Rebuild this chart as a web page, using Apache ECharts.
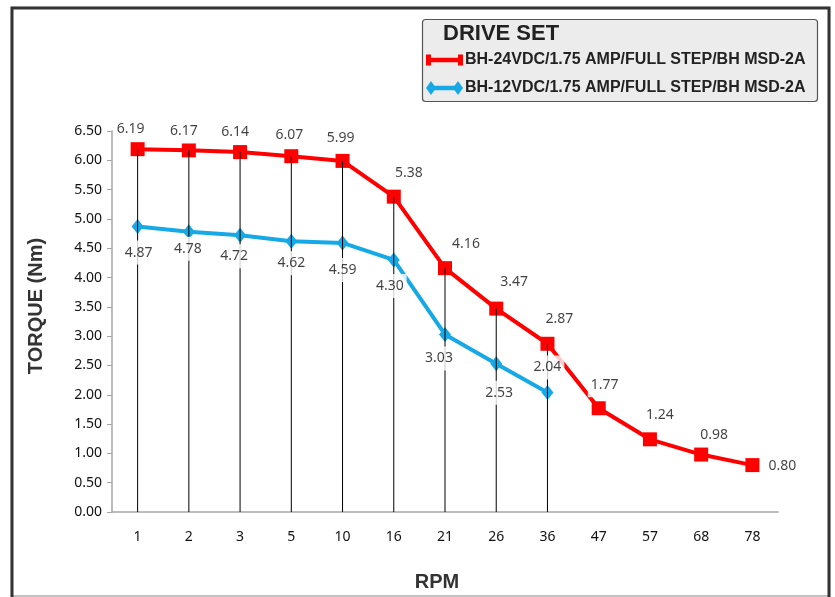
<!DOCTYPE html>
<html>
<head>
<meta charset="utf-8">
<script src="https://cdn.jsdelivr.net/npm/echarts@6/dist/echarts.min.js"></script>
<style>html,body{margin:0;padding:0;background:#fff;}#c{width:835px;height:597px;}</style>
</head>
<body>
<div id="c"></div>
<script>
// ---- data ----
var rpm = ['1','2','3','5','10','16','21','26','36','47','57','68','78'];
var torque24 = [6.19,6.17,6.14,6.07,5.99,5.38,4.16,3.47,2.87,1.77,1.24,0.98,0.80];
var torque12 = [4.87,4.78,4.72,4.62,4.59,4.30,3.03,2.53,2.04];
var seriesNames = ['BH-24VDC/1.75 AMP/FULL STEP/BH MSD-2A','BH-12VDC/1.75 AMP/FULL STEP/BH MSD-2A'];
var legendTitle = 'DRIVE SET';
var yTicks = { min: 0, max: 6.5, interval: 0.5 };

// label pixel offsets (style only)
var off24 = [[-7,-20],[-5,-19],[-5,-20],[-2,-21],[-2,-23],[15,-24],[21,-24],[18,-27],[12,-25],[6,-23],[10,-24],[13,-20],[30,1]];
var off12 = [[1,26],[-1,17],[-6,21],[0,22],[0,27],[-4,26],[-6,24],[3,29],[0,-25]];

var RED = '#ff0000', BLUE = '#16a9e6';
var labelFont = '"Noto Sans", "Open Sans", sans-serif';

var chart = echarts.init(document.getElementById('c'), null, {renderer:'canvas'});

var dropData = torque12.map(function(v,i){ return [i, Math.max(v, torque24[i])]; });

function labelData(vals, offs){
  return vals.map(function(v,i){
    return { value:[i, v], label:{ offset: offs[i], formatter: v.toFixed(2) } };
  });
}

var labelStyle = {
  show:true, position:'inside', color:'#111', fontSize:14, fontFamily:labelFont,
  backgroundColor:'#fff', padding:[5,3]
};

chart.setOption({
  animation:false,
  backgroundColor:'#fff',
  grid:{ left:112, right:57, top:131, bottom:85 },
  xAxis:{
    type:'category', data:rpm, boundaryGap:true,
    axisLine:{ lineStyle:{ color:'#a6a6a6', width:1.5 } },
    axisTick:{ show:false },
    axisLabel:{ color:'#111', fontSize:14, fontFamily:labelFont, margin:18 }
  },
  yAxis:{
    type:'value', min:yTicks.min, max:yTicks.max, interval:yTicks.interval,
    axisLine:{ show:true, lineStyle:{ color:'#a6a6a6', width:1.5 } },
    axisTick:{ show:true, length:5, lineStyle:{ color:'#a6a6a6' } },
    splitLine:{ show:false },
    axisLabel:{ color:'#111', fontSize:14, fontFamily:labelFont, margin:10,
      formatter:function(v){ return v.toFixed(2); } }
  },
  series:[
    { type:'line', name:seriesNames[0], data:torque24, z:2, silent:true,
      lineStyle:{ color:RED, width:4 }, itemStyle:{ color:RED },
      symbol:'rect', symbolSize:14, showAllSymbol:true },
    { type:'line', name:seriesNames[1], data:torque12, z:2, silent:true,
      lineStyle:{ color:BLUE, width:4 }, itemStyle:{ color:BLUE },
      symbol:'diamond', symbolSize:[12,15], showAllSymbol:true },
    { type:'custom', z:3, silent:true, data:dropData,
      renderItem:function(params, api){
        var top = api.coord([api.value(0), api.value(1)]);
        var bot = api.coord([api.value(0), 0]);
        return { type:'line', shape:{ x1:top[0], y1:top[1], x2:bot[0], y2:bot[1] },
          style:{ stroke:'#000', lineWidth:1 } };
      } },
    { type:'scatter', z:10, silent:true, symbolSize:0, data:labelData(torque24, off24), label:labelStyle },
    { type:'scatter', z:10, silent:true, symbolSize:0, data:labelData(torque12, off12), label:labelStyle }
  ],
  graphic:[
    { type:'rect', z:0, silent:true, shape:{ x:11.5, y:7.5, width:818, height:588.5 },
      style:{ fill:null, stroke:'#b0b0b0', lineWidth:1.5 } },
    { type:'polyline', z:1, silent:true, shape:{ points:[[12,597],[12,8],[829,8],[829,597]] },
      style:{ fill:null, stroke:'#333', lineWidth:3 } },
    { type:'rect', z:5, silent:true, shape:{ x:422.5, y:19.5, width:395, height:82, r:3 },
      style:{ fill:'#ececec', stroke:'#555', lineWidth:1.2 } },
    { type:'text', z:6, silent:true, x:443, y:34,
      style:{ text:legendTitle, font:'bold 22px "Liberation Sans", Arial, sans-serif', fill:'#222', textVerticalAlign:'middle' } },
    // red legend icon
    { type:'line', z:6, silent:true, shape:{ x1:428, y1:60, x2:461, y2:60 }, style:{ stroke:RED, lineWidth:4.5 } },
    { type:'rect', z:6, silent:true, shape:{ x:426, y:54.5, width:5, height:11 }, style:{ fill:RED } },
    { type:'rect', z:6, silent:true, shape:{ x:458, y:54.5, width:5, height:11 }, style:{ fill:RED } },
    { type:'text', z:6, silent:true, x:465, y:60,
      style:{ text:seriesNames[0], font:'bold 16px "Liberation Sans", Arial, sans-serif', fill:'#222', textVerticalAlign:'middle' } },
    // blue legend icon
    { type:'line', z:6, silent:true, shape:{ x1:430, y1:88, x2:459, y2:88 }, style:{ stroke:BLUE, lineWidth:4.5 } },
    { type:'polygon', z:6, silent:true, shape:{ points:[[426,88],[431,81],[436,88],[431,95]] }, style:{ fill:BLUE } },
    { type:'polygon', z:6, silent:true, shape:{ points:[[453,88],[458,81],[463,88],[458,95]] }, style:{ fill:BLUE } },
    { type:'text', z:6, silent:true, x:465, y:88,
      style:{ text:seriesNames[1], font:'bold 16px "Liberation Sans", Arial, sans-serif', fill:'#222', textVerticalAlign:'middle' } },
    // axis titles
    { type:'text', z:6, silent:true, x:36, y:306, rotation:Math.PI/2,
      style:{ text:'TORQUE (Nm)', font:'bold 20px "Liberation Sans", Arial, sans-serif', fill:'#333', textAlign:'center', textVerticalAlign:'middle' } },
    { type:'text', z:6, silent:true, x:437, y:582,
      style:{ text:'RPM', font:'bold 20px "Liberation Sans", Arial, sans-serif', fill:'#333', textAlign:'center', textVerticalAlign:'middle' } }
  ]
});
</script>
</body>
</html>
